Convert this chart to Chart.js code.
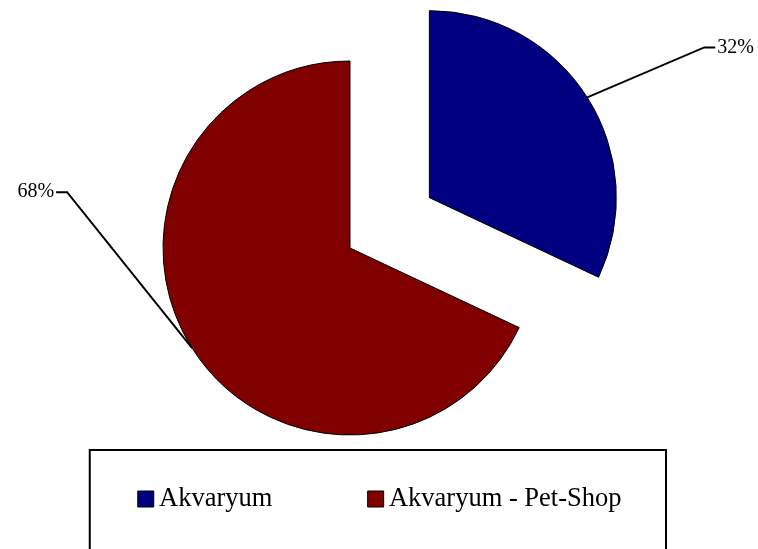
<!DOCTYPE html>
<html lang="en">
<head>
    <meta charset="UTF-8">
    <title>Akvaryum</title>
    <script src="https://cdn.jsdelivr.net/npm/chart.js"></script>
    <style>
        html, body {
            margin: 0;
            padding: 0;
            background: #fff;
        }
    </style>
</head>
<body>
    <canvas id="myChart" width="758" height="549"></canvas>
    <script>
        const categories = ['Akvaryum', 'Akvaryum - Pet-Shop'];
        const shares = [32, 68];
        const sliceColors = ['#000080', '#800000'];

        const serif = "'Times New Roman', 'Liberation Serif', serif";

        // shift of a slice pulled out along its middle angle
        function explodeShift(arc, dist) {
            const mid = (arc.startAngle + arc.endAngle) / 2;
            return { dx: Math.cos(mid) * dist, dy: Math.sin(mid) * dist };
        }

        const explodePlugin = {
            id: 'explode',
            beforeDatasetDraw(chart, args, opts) {
                args.meta.data.forEach((arc, i) => {
                    const s = explodeShift(arc, opts.distance[i] || 0);
                    arc.x += s.dx;
                    arc.y += s.dy;
                });
            },
            afterDatasetDraw(chart, args, opts) {
                args.meta.data.forEach((arc, i) => {
                    const s = explodeShift(arc, opts.distance[i] || 0);
                    arc.x -= s.dx;
                    arc.y -= s.dy;
                });
            }
        };

        // percentage labels with leader lines
        const leaderPlugin = {
            id: 'leaders',
            afterDraw(chart, args, opts) {
                const ctx = chart.ctx;
                const meta = chart.getDatasetMeta(0);
                const total = shares.reduce((a, b) => a + b, 0);
                ctx.save();
                ctx.strokeStyle = '#000';
                ctx.fillStyle = '#000';
                ctx.lineWidth = 2;
                ctx.font = '20px ' + serif;
                ctx.textBaseline = 'middle';
                meta.data.forEach((arc, i) => {
                    const s = explodeShift(arc, opts.explode[i] || 0);
                    const mid = (arc.startAngle + arc.endAngle) / 2;
                    const x0 = arc.x + s.dx + Math.cos(mid) * arc.outerRadius;
                    const y0 = arc.y + s.dy + Math.sin(mid) * arc.outerRadius;
                    const x1 = x0 + opts.elbow[i][0];
                    const y1 = y0 + opts.elbow[i][1];
                    const dir = opts.elbow[i][0] >= 0 ? 1 : -1;
                    const x2 = x1 + dir * 11;
                    ctx.beginPath();
                    ctx.moveTo(x0, y0);
                    ctx.lineTo(x1, y1);
                    ctx.lineTo(x2, y1);
                    ctx.stroke();
                    ctx.textAlign = dir > 0 ? 'left' : 'right';
                    ctx.fillText(Math.round(shares[i] / total * 100) + '%', x2 + dir * 2, y1);
                });
                ctx.restore();
            }
        };

        // frame round the legend
        const legendFramePlugin = {
            id: 'legendFrame',
            afterDraw(chart) {
                const hb = chart.legend.legendHitBoxes;
                if (!hb || !hb.length) return;
                const last = hb[hb.length - 1];
                const left = hb[0].left - 56;
                const right = last.left + last.width + 44.5;
                const top = hb[0].top - 35.75;
                const ctx = chart.ctx;
                ctx.save();
                ctx.strokeStyle = '#000';
                ctx.lineWidth = 2;
                ctx.strokeRect(left, top, right - left, chart.height + 10 - top);
                ctx.restore();
            }
        };

        const ctx = document.getElementById('myChart').getContext('2d');
        new Chart(ctx, {
            type: 'pie',
            data: {
                labels: categories,
                datasets: [{
                    data: shares,
                    backgroundColor: sliceColors,
                    borderColor: '#000',
                    borderWidth: 1
                }]
            },
            options: {
                responsive: false,
                animation: false,
                radius: 187,
                layout: {
                    padding: { top: 113.55, bottom: 26.75, left: 0, right: 33.2 }
                },
                plugins: {
                    tooltip: { enabled: false },
                    // empty box on the right: keeps the pie left of the legend's centre
                    title: {
                        display: true,
                        text: '',
                        position: 'right',
                        fullSize: false,
                        padding: 0,
                        font: { size: 24.8, lineHeight: 1 }
                    },
                    legend: {
                        position: 'bottom',
                        align: 'end',
                        labels: {
                            usePointStyle: true,
                            pointStyle: 'rect',
                            boxWidth: 0.01,
                            boxHeight: 16,
                            padding: 103.3,
                            color: '#000',
                            font: { family: serif, size: 26.5 }
                        }
                    },
                    explode: { distance: [94, 0] },
                    leaders: { explode: [94, 0], elbow: [[117, -50], [-125, -156]] }
                }
            },
            plugins: [explodePlugin, leaderPlugin, legendFramePlugin]
        });
    </script>
</body>
</html>
